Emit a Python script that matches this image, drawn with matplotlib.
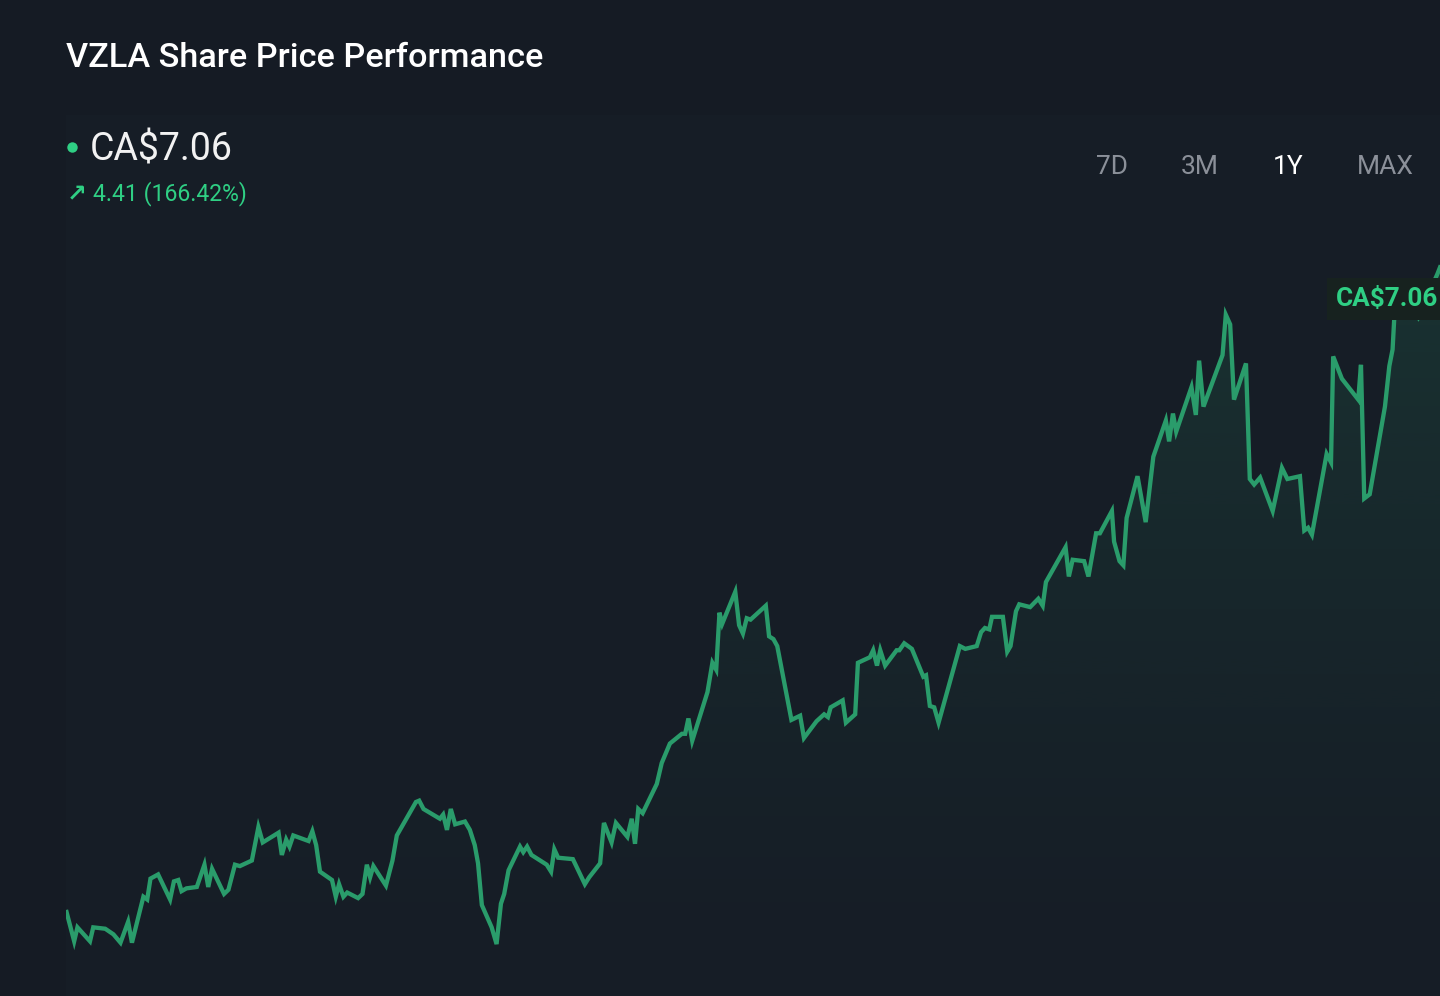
import numpy as np
import matplotlib
matplotlib.use("Agg")
import matplotlib.pyplot as plt
from matplotlib.patches import Polygon
from matplotlib.lines import Line2D

# trading days since start, and close price (CA$)
days = [0.1, 1.5, 2.1, 4.4, 5.0, 7.2, 8.7, 10.0, 11.4, 12.1, 14.2, 14.9, 15.5, 16.9,
        19.1, 19.8, 20.6, 21.2, 22.1, 24.0, 25.4, 26.1, 26.8, 29.0, 29.8, 31.0, 31.9,
        34.1, 35.3, 36.1, 39.0, 39.6, 40.4, 41.0, 41.7, 44.5, 45.2, 45.9, 46.6, 48.8,
        49.5, 50.1, 50.9, 51.6, 53.6, 54.4, 55.2, 55.8, 56.4, 58.7, 59.9, 60.7, 64.2,
        64.8, 65.6, 68.6, 69.2, 69.9, 70.6, 71.4, 73.2, 74.1, 75.0, 75.6, 76.3, 78.1,
        79.0, 79.8, 80.4, 81.2, 83.3, 83.9, 84.6, 85.4, 88.2, 89.0, 89.6, 90.3, 93.0,
        95.2, 96.0, 98.0, 98.7, 100.1, 100.9, 103.0, 103.8, 104.4, 105.0, 105.8, 108.4,
        109.3, 110.8, 113.0, 113.6, 114.2, 114.9, 117.7, 118.6, 119.3, 119.9, 120.4,
        122.8, 123.5, 124.2, 124.9, 125.6, 128.4, 129.0, 129.8, 130.5, 133.1, 134.7,
        135.4, 137.7, 139.1, 139.8, 140.3, 142.5, 143.1, 144.8, 145.3, 147.5, 148.1,
        148.8, 149.4, 150.3, 152.4, 152.9, 153.8, 155.2, 157.3, 157.8, 158.5, 159.3,
        160.1, 164.0, 165.0, 167.1, 167.9, 168.6, 169.4, 169.9, 171.9, 172.7, 173.3,
        174.3, 174.9, 176.9, 178.4, 179.2, 179.8, 183.4, 184.0, 184.7, 186.8, 187.6,
        189.0, 189.7, 191.9, 192.3, 193.3, 194.0, 194.6, 196.6, 198.1, 199.5, 201.8,
        202.4, 203.1, 203.7, 206.5, 207.3, 207.9, 208.7, 212.2, 212.8, 213.6, 214.3,
        216.5, 217.2, 218.0, 219.1, 221.4, 223.1, 224.1, 226.4, 227.2, 227.9, 228.6,
        231.3, 232.1, 232.5, 234.1, 237.1, 237.6, 238.2, 239.2, 242.0, 242.8, 243.4,
        243.7, 245.7, 248.1, 251.6, 252.1]
prices = [2.65, 2.44, 2.54, 2.44, 2.54, 2.53, 2.49, 2.43, 2.58, 2.43, 2.76, 2.74, 2.89, 2.92,
          2.74, 2.87, 2.88, 2.80, 2.82, 2.83, 2.99, 2.83, 2.96, 2.78, 2.81, 2.99, 2.98,
          3.02, 3.26, 3.15, 3.22, 3.06, 3.17, 3.12, 3.20, 3.16, 3.23, 3.13, 2.94, 2.88,
          2.76, 2.85, 2.76, 2.79, 2.75, 2.78, 2.99, 2.90, 2.98, 2.84, 3.02, 3.20, 3.44,
          3.45, 3.39, 3.32, 3.35, 3.24, 3.39, 3.28, 3.30, 3.24, 3.13, 3.00, 2.70, 2.54,
          2.42, 2.71, 2.78, 2.95, 3.12, 3.08, 3.12, 3.06, 2.99, 2.94, 3.10, 3.04, 3.03,
          2.85, 2.90, 3.00, 3.29, 3.15, 3.29, 3.19, 3.32, 3.14, 3.39, 3.36, 3.57,
          3.72, 3.86, 3.93, 3.93, 4.04, 3.88, 4.23, 4.44, 4.39, 4.80, 4.72,
          4.95, 4.71, 4.65, 4.76, 4.75, 4.85, 4.63, 4.61, 4.56, 4.03, 4.06,
          3.90, 4.02, 4.07, 4.05, 4.12, 4.17, 4.01, 4.07, 4.44, 4.48, 4.53,
          4.42, 4.53, 4.42, 4.53, 4.53, 4.58, 4.54, 4.34, 4.35, 4.13, 4.12,
          4.01, 4.56, 4.54, 4.56, 4.66, 4.69, 4.68, 4.77, 4.77, 4.52, 4.56,
          4.81, 4.86, 4.84, 4.90, 4.85, 5.02, 5.27, 5.06, 5.18, 5.17, 5.06,
          5.37, 5.37, 5.53, 5.31, 5.17, 5.14, 5.48, 5.78, 5.45, 5.92, 6.18,
          6.03, 6.23, 6.10, 6.42, 6.22, 6.61, 6.28, 6.65, 6.94, 6.87, 6.33,
          6.59, 5.76, 5.72, 5.77, 5.53, 5.84, 5.76, 5.78, 5.39, 5.41, 5.36,
          5.94, 5.88, 6.64, 6.48, 6.33, 6.58, 5.62, 5.65, 6.28, 6.57, 6.69,
          6.91, 7.05, 6.92, 7.23, 7.28]

ticker = "VZLA"
last_price = 7.06
change = 4.41
change_pct = 166.42
ranges = ["7D", "3M", "1Y", "MAX"]
active_range = "1Y"

BG = "#151b24"
GREEN = "#2a9c6b"
GREEN_TXT = "#2fcf84"

plt.rcParams['font.family'] = ['Roboto', 'DejaVu Sans']

fig = plt.figure(figsize=(14.4, 9.96), dpi=100, facecolor=BG)
ax = fig.add_axes([66 / 1440, 0, 1374 / 1440, 881 / 996])
ax.set_facecolor("#161d26")
for s in ax.spines.values():
    s.set_visible(False)
ax.set_xticks([])
ax.set_yticks([])

x = np.array(days)
y = np.array(prices)
ymin, ymax = 2.047, 8.374

# gradient fill under the line
grad = np.linspace(0, 1, 256)
rgba = np.zeros((256, 1, 4))
rgba[:, 0, :3] = matplotlib.colors.to_rgb(GREEN)
rgba[:, 0, 3] = (grad ** 1.3) * 0.17
img = ax.imshow(rgba, aspect="auto", origin="lower",
                extent=[x[0], x[-1], ymin, y.max()], zorder=1)
ax.set_xlim(0, days[-1])
ax.set_ylim(ymin, ymax)
verts = np.vstack([np.column_stack([x, y]), [[x[-1], ymin], [x[0], ymin]]])
clip = Polygon(verts, closed=True, facecolor="none", edgecolor="none")
ax.add_patch(clip)
img.set_clip_path(clip)

ax.plot(x, y, color=GREEN, lw=3.1, solid_joinstyle="miter", zorder=3)

ax.annotate(f"CA${last_price:.2f}", xy=(x[-1], last_price), xytext=(-75, -1),
            textcoords="offset points", ha="left", va="center",
            fontsize=18.8, fontweight="bold", color=GREEN_TXT, zorder=5,
            annotation_clip=False,
            bbox=dict(boxstyle="square,pad=0.35", fc="#17221f", ec="none"))

# header
fig.text(66 / 1440, 1 - 58 / 996, f"{ticker} Share Price Performance",
         ha="left", va="center", fontsize=24.7, fontweight="medium", color="white")
fig.text(90 / 1440, 1 - 150 / 996, f"CA${last_price:.2f}",
         ha="left", va="center", fontsize=27, color="#f2f2f2")
fig.add_artist(Line2D([72 / 1440], [1 - 147 / 996], marker="o", ms=7.5, mew=0,
                      color=GREEN_TXT, transform=fig.transFigure))
fig.text(67 / 1440, 1 - 194 / 996, "\u2197", ha="left", va="center",
         fontsize=17, fontweight="bold", color=GREEN_TXT, family=["DejaVu Sans"])
fig.text(93 / 1440, 1 - 194 / 996, f"{change:.2f} ({change_pct:.2f}%)",
         ha="left", va="center", fontsize=16.6, color=GREEN_TXT)

for lab, cx in zip(ranges, [1112, 1200, 1288, 1385]):
    fig.text(cx / 1440, 1 - 167 / 996, lab, ha="center", va="center", fontsize=19,
             color="white" if lab == active_range else "#8b9099")

fig.savefig("out.png", dpi=100, facecolor=BG)
